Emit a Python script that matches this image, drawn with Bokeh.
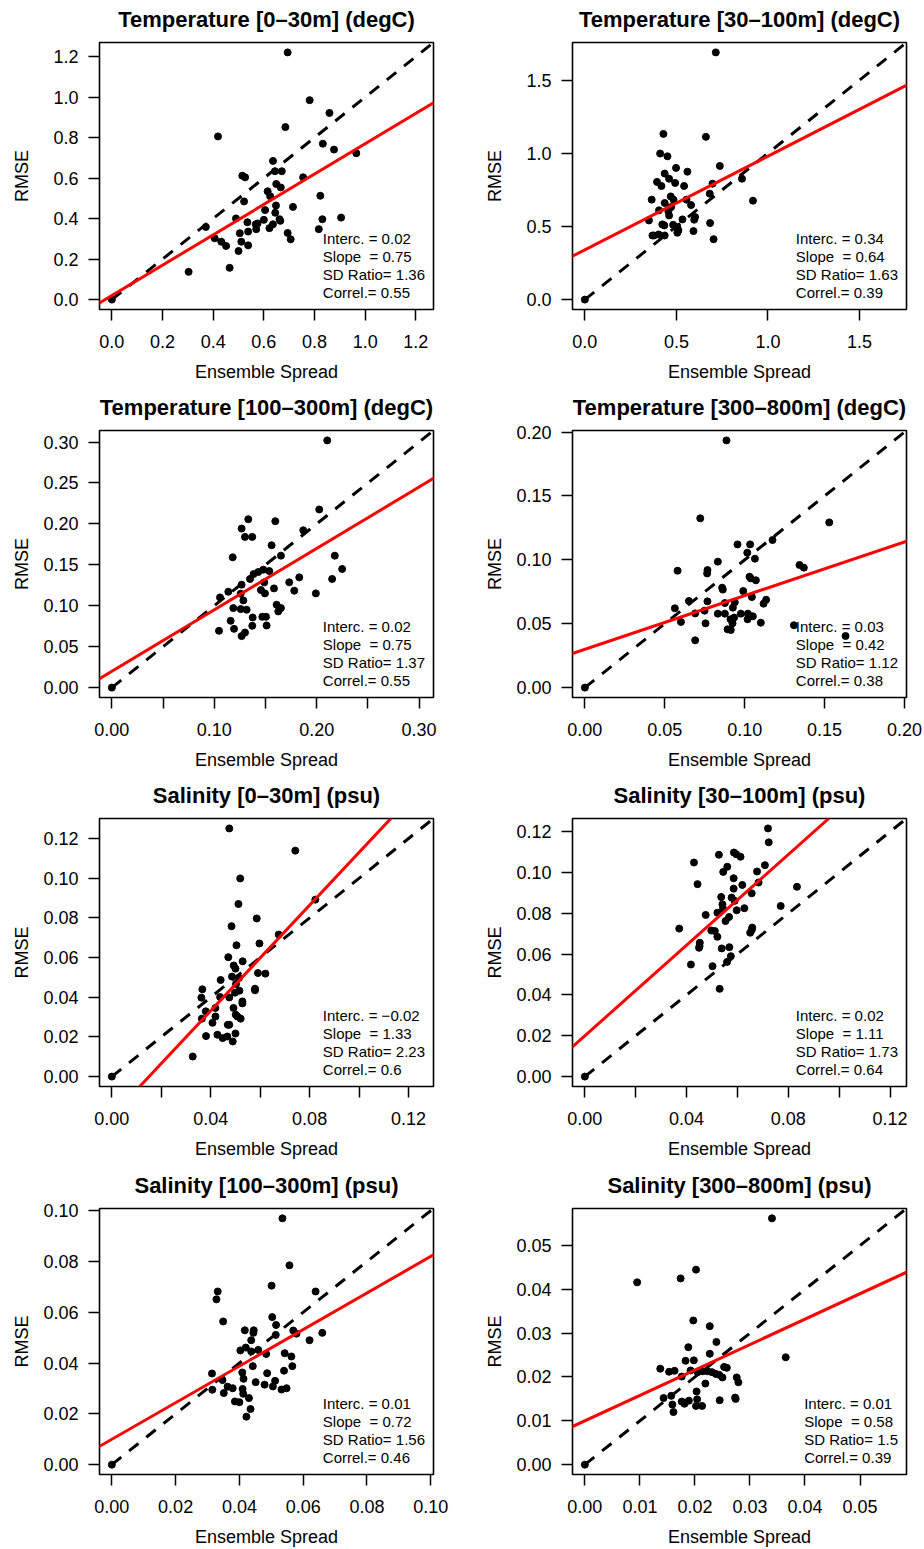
from bokeh.plotting import figure
from bokeh.models import (FixedTicker, PrintfTickFormatter, Slope, Legend,
                          LegendItem, Range1d, Title)
from bokeh.layouts import column, row
from bokeh.embed import file_html
from bokeh.resources import INLINE

FONT = "Liberation Sans"

# ---------------------------------------------------------------- data
titles = [
    "Temperature [0–30m] (degC)", "Temperature [30–100m] (degC)",
    "Temperature [100–300m] (degC)", "Temperature [300–800m] (degC)",
    "Salinity [0–30m] (psu)", "Salinity [30–100m] (psu)",
    "Salinity [100–300m] (psu)", "Salinity [300–800m] (psu)",
]

temp_0_30_spread = [0.0, 0.694, 0.781, 0.859, 0.685, 0.419, 0.833, 0.877, 0.965, 0.636, 0.644,
                    0.671, 0.515, 0.526, 0.755, 0.649, 0.667, 0.615, 0.625, 0.823, 0.522,
                    0.648, 0.715, 0.605, 0.645, 0.490, 0.600, 0.662, 0.665, 0.535, 0.568,
                    0.575, 0.831, 0.905, 0.636, 0.622, 0.570, 0.371, 0.505, 0.538, 0.694,
                    0.817, 0.706, 0.406, 0.511, 0.432, 0.451, 0.538, 0.500, 0.303, 0.465]
temp_0_30_rmse = [0.0, 1.221, 0.985, 0.922, 0.852, 0.806, 0.770, 0.741, 0.723, 0.685, 0.634,
                  0.634, 0.612, 0.604, 0.604, 0.571, 0.554, 0.535, 0.511, 0.513, 0.485,
                  0.465, 0.458, 0.442, 0.429, 0.401, 0.394, 0.397, 0.389, 0.382, 0.372,
                  0.376, 0.397, 0.405, 0.372, 0.353, 0.348, 0.359, 0.328, 0.336, 0.329,
                  0.348, 0.298, 0.303, 0.286, 0.286, 0.265, 0.268, 0.240, 0.137, 0.157]

temp_30_100_spread = [0.0, 0.715, 0.429, 0.661, 0.411, 0.451, 0.737, 0.498, 0.560, 0.436, 0.460,
                      0.858, 0.394, 0.493, 0.418, 0.542, 0.697, 0.365, 0.469, 0.484, 0.555,
                      0.682, 0.918, 0.436, 0.580, 0.405, 0.456, 0.350, 0.460, 0.533, 0.597,
                      0.434, 0.482, 0.505, 0.602, 0.684, 0.423, 0.378, 0.403, 0.436, 0.505,
                      0.593, 0.703, 0.369, 0.511, 0.471]
temp_30_100_rmse = [0.0, 1.689, 1.132, 1.112, 0.998, 0.979, 0.913, 0.900, 0.874, 0.861, 0.826,
                    0.826, 0.804, 0.797, 0.776, 0.776, 0.792, 0.683, 0.705, 0.683, 0.683,
                    0.724, 0.676, 0.660, 0.646, 0.610, 0.603, 0.541, 0.575, 0.548, 0.546,
                    0.507, 0.511, 0.495, 0.564, 0.523, 0.514, 0.438, 0.445, 0.438, 0.457,
                    0.468, 0.413, 0.438, 0.473, 0.632]

temp_100_300_spread = [0.0, 0.2103, 0.2025, 0.1332, 0.1596, 0.1267, 0.1869, 0.1300, 0.1371, 0.1560,
                       0.1180, 0.2177, 0.1651, 0.2249, 0.1479, 0.1537, 0.1430, 0.1384, 0.1349,
                       0.2151, 0.1830, 0.1732, 0.1488, 0.1267, 0.1583, 0.1456, 0.1137, 0.1781,
                       0.1992, 0.1495, 0.1258, 0.1056, 0.1284, 0.1609, 0.1651, 0.1186, 0.1258,
                       0.1316, 0.1625, 0.1375, 0.1469, 0.1505, 0.1160, 0.1371, 0.1511, 0.1193,
                       0.1046, 0.1300, 0.1267]
temp_100_300_rmse = [0.0, 0.302, 0.2176, 0.2057, 0.2033, 0.1943, 0.1922, 0.1841, 0.1841, 0.1739,
                     0.1592, 0.1612, 0.1612, 0.1449, 0.1441, 0.1424, 0.1412, 0.1388, 0.1327,
                     0.1327, 0.1347, 0.1286, 0.1286, 0.1257, 0.1212, 0.1192, 0.1171, 0.1184,
                     0.1151, 0.1151, 0.1147, 0.1102, 0.1065, 0.1012, 0.0971, 0.0971, 0.0959,
                     0.0951, 0.0931, 0.0857, 0.0865, 0.0865, 0.0816, 0.0755, 0.0759, 0.0718,
                     0.0694, 0.0673, 0.0629]

temp_300_800_spread = [0.0, 0.0886, 0.0722, 0.1529, 0.1174, 0.0955, 0.1034, 0.1016, 0.1064, 0.0832,
                       0.1343, 0.1370, 0.0580, 0.0767, 0.0765, 0.1030, 0.1038, 0.1070, 0.0859,
                       0.0863, 0.0991, 0.1045, 0.1134, 0.1118, 0.0651, 0.0767, 0.0938, 0.0876,
                       0.0926, 0.0563, 0.0749, 0.0690, 0.0832, 0.0876, 0.0976, 0.1020, 0.1051,
                       0.0934, 0.0911, 0.1018, 0.0601, 0.0755, 0.1101, 0.0924, 0.1308, 0.0893,
                       0.0913, 0.0690, 0.1631]
temp_300_800_rmse = [0.0, 0.1935, 0.1325, 0.1293, 0.1155, 0.1121, 0.1121, 0.1056, 0.1009, 0.0986,
                     0.0960, 0.0939, 0.0915, 0.0920, 0.0894, 0.0868, 0.0855, 0.0840, 0.0782,
                     0.0767, 0.0756, 0.0709, 0.0688, 0.0657, 0.0678, 0.0675, 0.0668, 0.0662,
                     0.0626, 0.0621, 0.0602, 0.0581, 0.0579, 0.0579, 0.0579, 0.0579, 0.0558,
                     0.0548, 0.0535, 0.0535, 0.0514, 0.0503, 0.0508, 0.0503, 0.0488, 0.0456,
                     0.0451, 0.0370, 0.0404]

sal_0_30_spread = [0.0, 0.0475, 0.0742, 0.0519, 0.0512, 0.0823, 0.0586, 0.0484, 0.0675, 0.0597,
                   0.0504, 0.0471, 0.0529, 0.0493, 0.0500, 0.0486, 0.0591, 0.0621, 0.0440,
                   0.0514, 0.0502, 0.0366, 0.0579, 0.0579, 0.0516, 0.0498, 0.0438, 0.0475,
                   0.0362, 0.0528, 0.0528, 0.0419, 0.0492, 0.0380, 0.0419, 0.0501, 0.0508,
                   0.0364, 0.0521, 0.0407, 0.0469, 0.0475, 0.0381, 0.0427, 0.0500, 0.0448,
                   0.0467, 0.0489, 0.0327]
sal_0_30_rmse = [0.0, 0.1251, 0.1139, 0.0999, 0.0870, 0.0892, 0.0797, 0.0758, 0.0716, 0.0671,
                 0.0662, 0.0602, 0.0581, 0.0560, 0.0544, 0.0504, 0.0522, 0.0519, 0.0487,
                 0.0497, 0.0467, 0.0440, 0.0443, 0.0435, 0.0433, 0.0423, 0.0401, 0.0399,
                 0.0398, 0.0379, 0.0369, 0.0346, 0.0346, 0.0329, 0.0303, 0.0312, 0.0303,
                 0.0292, 0.0292, 0.0271, 0.0261, 0.0261, 0.0204, 0.0211, 0.0217, 0.0194,
                 0.0202, 0.0177, 0.0101]

sal_30_100_spread = [0.0, 0.0720, 0.0723, 0.0527, 0.0586, 0.0595, 0.0612, 0.0429, 0.0560, 0.0708,
                     0.0544, 0.0677, 0.0585, 0.0683, 0.0443, 0.0619, 0.0834, 0.0585, 0.0656,
                     0.0536, 0.0577, 0.0541, 0.0770, 0.0589, 0.0543, 0.0627, 0.0597, 0.0521,
                     0.0475, 0.0567, 0.0553, 0.0371, 0.0658, 0.0656, 0.0497, 0.0511, 0.0650,
                     0.0521, 0.0452, 0.0451, 0.0449, 0.0538, 0.0568, 0.0574, 0.0559, 0.0417,
                     0.0502, 0.0530]
sal_30_100_rmse = [0.0, 0.1216, 0.1148, 0.1087, 0.1098, 0.1090, 0.1077, 0.1049, 0.1028, 0.1036,
                   0.1003, 0.1005, 0.0972, 0.0951, 0.0943, 0.0939, 0.0930, 0.0921, 0.0898,
                   0.0880, 0.0877, 0.0844, 0.0836, 0.0861, 0.0823, 0.0825, 0.0815, 0.0803,
                   0.0792, 0.0782, 0.0762, 0.0725, 0.0730, 0.0718, 0.0716, 0.0713, 0.0705,
                   0.0685, 0.0656, 0.0639, 0.0631, 0.0628, 0.0634, 0.0590, 0.0562, 0.0549,
                   0.0541, 0.0430]

sal_100_300_spread = [0.0, 0.0535, 0.0557, 0.0501, 0.0332, 0.0639, 0.0328, 0.0349, 0.0503, 0.0515,
                      0.0417, 0.0445, 0.0444, 0.0514, 0.0569, 0.0579, 0.0620, 0.0660, 0.0437,
                      0.0403, 0.0420, 0.0437, 0.0459, 0.0484, 0.0542, 0.0563, 0.0442, 0.0566,
                      0.0314, 0.0409, 0.0487, 0.0540, 0.0413, 0.0347, 0.0451, 0.0512, 0.0479,
                      0.0505, 0.0363, 0.0379, 0.0410, 0.0532, 0.0548, 0.0315, 0.0351, 0.0412,
                      0.0430, 0.0386, 0.0400, 0.0435, 0.0422]
sal_100_300_rmse = [0.0, 0.0970, 0.0785, 0.0705, 0.0682, 0.0682, 0.0651, 0.0564, 0.0581, 0.0550,
                    0.0529, 0.0529, 0.0519, 0.0511, 0.0528, 0.0516, 0.0490, 0.0519, 0.0490,
                    0.0450, 0.0461, 0.0446, 0.0452, 0.0436, 0.0439, 0.0426, 0.0388, 0.0388,
                    0.0359, 0.0363, 0.0360, 0.0370, 0.0338, 0.0333, 0.0325, 0.0330, 0.0315,
                    0.0308, 0.0307, 0.0301, 0.0298, 0.0296, 0.0301, 0.0295, 0.0282, 0.0279,
                    0.0262, 0.0249, 0.0246, 0.0219, 0.0189]

sal_300_800_spread = [0.0, 0.0340, 0.0202, 0.0174, 0.0095, 0.0197, 0.0227, 0.0239, 0.0188, 0.0227,
                      0.0365, 0.0183, 0.0198, 0.0137, 0.0192, 0.0153, 0.0163, 0.0205, 0.0214,
                      0.0223, 0.0231, 0.0238, 0.0244, 0.0253, 0.0258, 0.0176, 0.0250, 0.0276,
                      0.0279, 0.0219, 0.0203, 0.0157, 0.0143, 0.0273, 0.0274, 0.0245, 0.0204,
                      0.0176, 0.0189, 0.0181, 0.0202, 0.0213, 0.0159, 0.0161]
sal_300_800_rmse = [0.0, 0.0562, 0.0445, 0.0425, 0.0416, 0.0329, 0.0316, 0.0280, 0.0268, 0.0253,
                    0.0245, 0.0237, 0.0238, 0.0219, 0.0215, 0.0212, 0.0214, 0.0211, 0.0213,
                    0.0213, 0.0211, 0.0207, 0.0205, 0.0223, 0.0221, 0.0201, 0.0199, 0.0199,
                    0.0188, 0.0185, 0.0167, 0.0157, 0.0152, 0.0153, 0.0150, 0.0147, 0.0149,
                    0.0144, 0.0146, 0.0139, 0.0134, 0.0134, 0.0137, 0.0120]

# regression statistics printed in each panel
intercepts = [0.02, 0.34, 0.02, 0.03, -0.02, 0.02, 0.01, 0.01]
slopes = [0.75, 0.64, 0.75, 0.42, 1.33, 1.11, 0.72, 0.58]
sd_ratios = [1.36, 1.63, 1.37, 1.12, 2.23, 1.73, 1.56, 1.5]
correls = [0.55, 0.39, 0.55, 0.38, 0.6, 0.64, 0.46, 0.39]

# axis ticks (labelled) and extra unlabelled tick marks on the x axis
y_ticks = [
    [0.0, 0.2, 0.4, 0.6, 0.8, 1.0, 1.2],
    [0.0, 0.5, 1.0, 1.5],
    [0.0, 0.05, 0.10, 0.15, 0.20, 0.25, 0.30],
    [0.0, 0.05, 0.10, 0.15, 0.20],
    [0.0, 0.02, 0.04, 0.06, 0.08, 0.10, 0.12],
    [0.0, 0.02, 0.04, 0.06, 0.08, 0.10, 0.12],
    [0.0, 0.02, 0.04, 0.06, 0.08, 0.10],
    [0.0, 0.01, 0.02, 0.03, 0.04, 0.05],
]
x_ticks = [
    [0.0, 0.2, 0.4, 0.6, 0.8, 1.0, 1.2],
    [0.0, 0.5, 1.0, 1.5],
    [0.0, 0.10, 0.20, 0.30],
    [0.0, 0.05, 0.10, 0.15, 0.20],
    [0.0, 0.04, 0.08, 0.12],
    [0.0, 0.04, 0.08, 0.12],
    [0.0, 0.02, 0.04, 0.06, 0.08, 0.10],
    [0.0, 0.01, 0.02, 0.03, 0.04, 0.05],
]
x_minor_ticks = [
    [], [], [0.05, 0.15, 0.25], [],
    [0.02, 0.06, 0.10], [0.02, 0.06, 0.10], [], [],
]
tick_formats = ["%.1f", "%.1f", "%.2f", "%.2f", "%.2f", "%.2f", "%.2f", "%.2f"]

spreads = [temp_0_30_spread, temp_30_100_spread, temp_100_300_spread, temp_300_800_spread,
           sal_0_30_spread, sal_30_100_spread, sal_100_300_spread, sal_300_800_spread]
rmses = [temp_0_30_rmse, temp_30_100_rmse, temp_100_300_rmse, temp_300_800_rmse,
         sal_0_30_rmse, sal_30_100_rmse, sal_100_300_rmse, sal_300_800_rmse]

# ---------------------------------------------------------------- layout
FRAME_W = 334
FRAME_H = [267, 267, 268, 266]
TOP = [42, 43, 44, 47]
BOTTOM = [78, 77, 75, 75]
LEFT = [99, 110]
RIGHT = [29, 18]


def num(v):
    return str(v).replace("-", "\u2212")


def label_width(fmt, ticks, size=18):
    # approximate pixel width of the widest tick label (Arial-like metrics)
    w = 0.0
    for t in ticks:
        s = fmt % t
        w = max(w, sum(0.278 if c == "." else 0.556 for c in s) * size)
    return w


def make_panel(i):
    r, c = divmod(i, 2)
    xs, ys = spreads[i], rmses[i]
    assert len(xs) == len(ys)
    lim = max(max(xs), max(ys))
    lo, hi = -0.04 * lim, 1.04 * lim

    p = figure(frame_width=FRAME_W, frame_height=FRAME_H[r],
               x_range=Range1d(lo, hi), y_range=Range1d(lo, hi),
               min_border_left=LEFT[c], min_border_right=RIGHT[c],
               min_border_top=TOP[r], min_border_bottom=BOTTOM[r],
               output_backend="svg", toolbar_location=None,
               background_fill_color="white", border_fill_color="white")

    # heading: a thin spacer next to the frame, then the bold title above it
    p.title.text = ""
    p.add_layout(Title(text=" ", text_font_size="2px", standoff=7), "above")
    p.add_layout(Title(text=titles[i], align="center", standoff=0,
                       text_font=FONT, text_font_size="22px",
                       text_font_style="bold", text_color="black"), "above")

    p.outline_line_color = "black"
    p.outline_line_width = 1.6
    p.xgrid.grid_line_color = None
    p.ygrid.grid_line_color = None

    p.xaxis.ticker = FixedTicker(ticks=x_ticks[i], minor_ticks=x_minor_ticks[i])
    p.yaxis.ticker = FixedTicker(ticks=y_ticks[i], minor_ticks=[])
    p.xaxis.formatter = PrintfTickFormatter(format=tick_formats[i])
    p.yaxis.formatter = PrintfTickFormatter(format=tick_formats[i])
    p.xaxis.axis_label = "Ensemble Spread"
    p.yaxis.axis_label = "RMSE"

    for ax in (p.xaxis[0], p.yaxis[0]):
        ax.axis_line_color = None
        ax.major_tick_in = 0
        ax.major_tick_out = 11
        ax.minor_tick_in = 0
        ax.minor_tick_out = 11
        ax.major_tick_line_width = 1.5
        ax.minor_tick_line_width = 1.5
        ax.major_tick_line_color = "black"
        ax.minor_tick_line_color = "black"
        ax.major_label_text_font = FONT
        ax.major_label_text_font_size = "18px"
        ax.major_label_text_color = "black"
        ax.axis_label_text_font = FONT
        ax.axis_label_text_font_size = "18px"
        ax.axis_label_text_font_style = "normal"
        ax.axis_label_text_color = "black"
    p.xaxis.major_label_standoff = 14
    p.xaxis.axis_label_standoff = 11
    p.yaxis.major_label_standoff = 10
    p.yaxis.axis_label_standoff = int(round(43 - label_width(tick_formats[i], y_ticks[i])))

    # points, 1:1 reference line, fitted regression line
    p.scatter(xs, ys, size=7, color="black")
    p.line([0, hi], [0, hi], line_color="black", line_width=3, line_dash="12 10")
    p.add_layout(Slope(gradient=slopes[i], y_intercept=intercepts[i],
                       line_color="#ff0000", line_width=3))

    stats = [
        "Interc. = " + num(intercepts[i]),
        "Slope\u00a0 = " + num(slopes[i]),
        "SD Ratio= " + num(sd_ratios[i]),
        "Correl.= " + num(correls[i]),
    ]
    holder = p.line(x=[], y=[], line_alpha=0)
    legend = Legend(items=[LegendItem(label=s, renderers=[holder]) for s in stats],
                    location="bottom_right", glyph_width=0, glyph_height=18,
                    label_height=18, label_standoff=0, padding=0, margin=8,
                    spacing=0, background_fill_alpha=0, border_line_color=None,
                    label_text_font=FONT, label_text_font_size="15px",
                    label_text_color="black")
    p.add_layout(legend)
    return p


panels = [make_panel(i) for i in range(8)]
layout = column(*[row(panels[2 * k], panels[2 * k + 1]) for k in range(4)])

open("out.html", "w").write(file_html(layout, INLINE))
